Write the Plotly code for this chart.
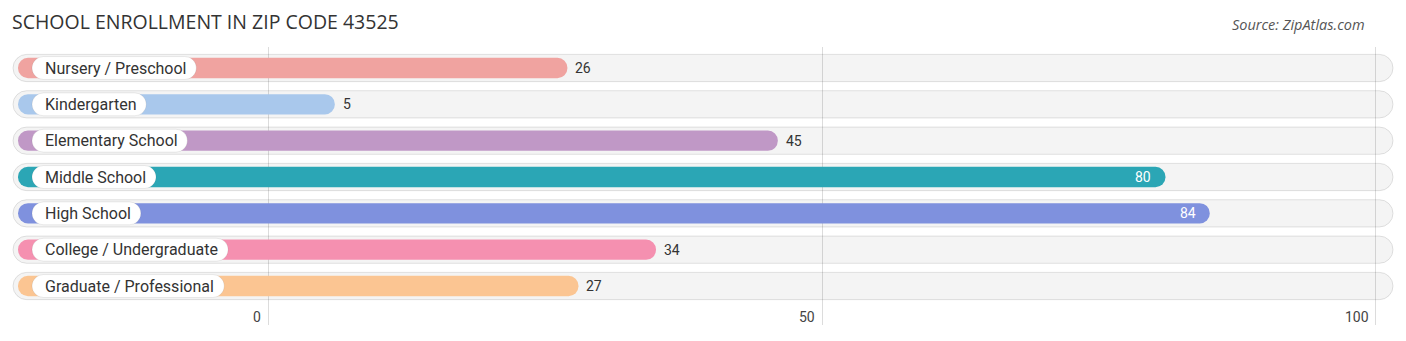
import plotly.graph_objects as go

# ---- data ----
categories = [
    "Nursery / Preschool",
    "Kindergarten",
    "Elementary School",
    "Middle School",
    "High School",
    "College / Undergraduate",
    "Graduate / Professional",
]
values = [26, 5, 45, 80, 84, 34, 27]
colors = ["#f0a3a0", "#a9c8ec", "#c098c6", "#2ba6b5", "#7f91de", "#f590b0", "#fbc592"]
tick_values = [0, 50, 100]

# ---- geometry ----
W, H = 1406, 341
X_RANGE = [-24.24, 102.71]
Y_RANGE = [7.073, -0.578]
DPX = (X_RANGE[1] - X_RANGE[0]) / W      # data units per pixel


def px_to_x(px):
    return X_RANGE[0] + px * DPX


TRACK_START, TRACK_END = px_to_x(13), px_to_x(1393)
BAR_START = px_to_x(18)
CAP = 11 * DPX                # rounded cap beyond the value
PILL_START = px_to_x(32)
TEXT_START = px_to_x(43)
LABEL_SIZE = 16

# approximate Roboto advance widths (em) for sizing label pills
ROBOTO_EM = {' ': 0.248, '/': 0.412, 'N': 0.713, 'P': 0.631, 'K': 0.627, 'E': 0.567,
             'M': 0.873, 'H': 0.713, 'S': 0.593, 'C': 0.652, 'U': 0.648, 'G': 0.680,
             'a': 0.543, 'b': 0.561, 'c': 0.523, 'd': 0.564, 'e': 0.529, 'f': 0.347,
             'g': 0.561, 'h': 0.551, 'i': 0.243, 'k': 0.507, 'l': 0.243, 'm': 0.876,
             'n': 0.552, 'o': 0.570, 'p': 0.561, 'r': 0.338, 's': 0.515, 't': 0.327,
             'u': 0.551, 'v': 0.484, 'y': 0.473}


def text_px(s, size):
    return sum(ROBOTO_EM.get(ch, 0.55) for ch in s) * size


fig = go.Figure()

# background tracks
fig.add_trace(go.Bar(
    y=categories, x=[TRACK_END - TRACK_START] * len(categories), base=TRACK_START,
    orientation="h", width=0.75,
    marker=dict(color="rgba(0,0,0,0.045)", line=dict(color="rgba(0,0,0,0.11)", width=1)),
    hoverinfo="skip", showlegend=False,
))

# value bars
fig.add_trace(go.Bar(
    y=categories, x=[v - BAR_START + CAP for v in values], base=BAR_START,
    orientation="h", width=0.56,
    marker=dict(color=colors, line=dict(width=0)),
    hoverinfo="skip", showlegend=False,
))

# white label pills
pill_ends = [TEXT_START + (text_px(c, LABEL_SIZE) + 12) * DPX for c in categories]
fig.add_trace(go.Bar(
    y=categories, x=[e - PILL_START for e in pill_ends], base=PILL_START,
    orientation="h", width=0.63,
    marker=dict(color="#ffffff", line=dict(color="rgba(0,0,0,0.08)", width=1)),
    hoverinfo="skip", showlegend=False,
))

annotations = []
for c, v in zip(categories, values):
    annotations.append(dict(
        x=TEXT_START, y=c, xref="x", yref="y", text=c, showarrow=False,
        xanchor="left", yanchor="middle",
        font=dict(family="Roboto", size=LABEL_SIZE, color="#333333"),
    ))
    end = v + CAP
    if v >= 60:
        annotations.append(dict(
            x=end, y=c, xref="x", yref="y", text=str(v), showarrow=False,
            xanchor="right", xshift=-12, yanchor="middle",
            font=dict(family="Roboto", size=14, color="#ffffff"),
        ))
    else:
        annotations.append(dict(
            x=end, y=c, xref="x", yref="y", text=str(v), showarrow=False,
            xanchor="left", xshift=6, yanchor="middle",
            font=dict(family="Roboto", size=14, color="#333333"),
        ))

# axis tick labels
for t in tick_values:
    annotations.append(dict(
        x=t, y=(325 - 317) / (325 - 47), xref="x", yref="paper", text=str(t),
        showarrow=False, xanchor="right", xshift=-5, yanchor="middle",
        font=dict(family="Roboto", size=14, color="#444444"),
    ))

# source note
annotations.append(dict(
    x=1367 / W, y=(325 - 24) / (325 - 47), xref="paper", yref="paper",
    text="Source: ZipAtlas.com", showarrow=False, xanchor="right", yanchor="middle",
    font=dict(family="Open Sans", size=14.5, color="#555555", style="italic"),
))

fig.update_layout(
    width=W, height=H,
    margin=dict(l=0, r=0, t=47, b=16),
    paper_bgcolor="#ffffff", plot_bgcolor="#ffffff",
    barmode="overlay", barcornerradius="50%",
    title=dict(
        text="SCHOOL ENROLLMENT IN ZIP CODE 43525",
        x=12 / W, xanchor="left", xref="container",
        y=1 - 22 / H, yanchor="middle", yref="container",
        font=dict(family="Open Sans", size=19.5, color="#333333"),
    ),
    xaxis=dict(
        range=X_RANGE, tickvals=tick_values, showticklabels=False,
        showgrid=True, gridcolor="#dcdcdc", gridwidth=1,
        zeroline=False, showline=False, fixedrange=True,
    ),
    yaxis=dict(
        range=Y_RANGE, categoryorder="array", categoryarray=categories,
        showticklabels=False, showgrid=False, zeroline=False, fixedrange=True,
    ),
    annotations=annotations,
    showlegend=False,
)

fig.write_html("out.html")
